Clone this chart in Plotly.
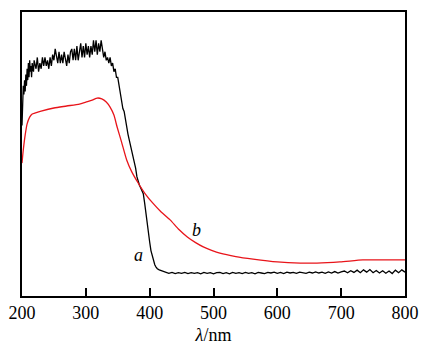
import plotly.graph_objects as go

# Curve a (black)
a_nm = [200,201,202,203,204,205,206,207,208,209,210,211,212,213,214,215,216,217,218,219,220,222,224,226,228,230,232,234,236,238,240,242,244,246,248,250,252,254,256,258,260,262,264,266,268,270,272,274,276,278,280,282,284,286,288,290,292,294,296,298,300,302,304,306,308,310,312,314,316,318,320,322,324,326,328,330,332,334,336,338,340,342,344,346,348,350,352,354,356,358,360,362,364,366,368,370,372,374,376,378,380,382,384,386,388,390,392,394,396,398,400,402,404,406,408,410,412,415,420,
        425,430,435,440,445,450,455,460,465,470,475,480,485,490,495,500,505,510,515,520,525,530,535,540,545,550,555,560,565,570,575,580,585,590,595,600,605,610,615,620,625,630,635,640,645,650,655,660,665,670,675,680,685,690,695,700,705,710,715,720,725,730,735,740,745,750,755,760,765,770,775,780,785,790,795,800]
a_val = [0.60,0.70,0.74,0.71,0.76,0.72,0.78,0.74,0.80,0.76,0.82,0.77,0.83,0.79,0.81,0.77,0.82,0.80,0.79,0.83,0.82,0.80,0.84,0.79,0.82,0.80,0.84,0.81,0.84,0.81,0.83,0.80,0.84,0.81,0.85,0.83,0.87,0.84,0.82,0.86,0.82,0.85,0.82,0.86,0.84,0.81,0.85,0.82,0.86,0.87,0.83,0.87,0.83,0.88,0.83,0.87,0.89,0.84,0.88,0.84,0.89,0.85,0.88,0.84,0.88,0.85,0.90,0.86,0.90,0.85,0.89,0.86,0.90,0.87,0.84,0.86,0.83,0.84,0.82,0.84,0.81,0.82,0.79,0.80,0.77,0.77,0.74,0.71,0.69,0.66,0.65,0.62,0.60,0.57,0.55,0.53,0.52,0.50,0.48,0.45,0.42,0.40,0.39,0.38,0.37,0.36,0.33,0.29,0.25,0.22,0.19,0.16,0.14,0.12,0.11,0.102,0.096,0.092,0.088,
         0.082,0.080,0.083,0.079,0.082,0.080,0.083,0.079,0.082,0.080,0.082,0.078,0.083,0.080,0.082,0.078,0.082,0.083,0.079,0.082,0.078,0.083,0.080,0.082,0.079,0.083,0.080,0.082,0.078,0.083,0.081,0.079,0.083,0.081,0.084,0.080,0.083,0.079,0.084,0.081,0.083,0.080,0.084,0.082,0.080,0.084,0.081,0.085,0.081,0.084,0.080,0.085,0.081,0.086,0.081,0.085,0.088,0.082,0.089,0.083,0.091,0.082,0.092,0.084,0.093,0.082,0.090,0.081,0.089,0.080,0.088,0.079,0.091,0.082,0.092,0.084]

# Curve b (red)
b_nm = [200,202,205,208,212,216,220,230,250,270,290,300,310,318,325,332,338,344,349,356,364,372,382,393,405,418,432,445,459,472,484,497,510,535,562,600,636,662,698,734,760,800]
b_val = [0.468,0.514,0.567,0.606,0.630,0.641,0.644,0.651,0.662,0.669,0.676,0.683,0.690,0.697,0.694,0.683,0.665,0.637,0.595,0.542,0.479,0.437,0.398,0.360,0.327,0.296,0.268,0.236,0.208,0.188,0.173,0.161,0.151,0.139,0.130,0.120,0.116,0.116,0.120,0.127,0.127,0.127]

x_ticks = [200, 300, 400, 500, 600, 700, 800]
labels = [("a", 382, 0.144), ("b", 474, 0.232)]

serif = "Liberation Serif, Times New Roman, serif"

fig = go.Figure()
fig.add_trace(go.Scatter(x=a_nm, y=a_val, mode="lines", line=dict(color="black", width=1.3), showlegend=False))
fig.add_trace(go.Scatter(x=b_nm, y=b_val, mode="lines", line=dict(color="#e8141a", width=1.3, shape="spline", smoothing=0.6), showlegend=False))

for t, x, y in labels:
    fig.add_annotation(x=x, y=y, text=f"<i>{t}</i>", showarrow=False,
                       font=dict(family=serif, size=18, color="black"))

# the page body has an 8px margin, so the figure is offset by 8px
fig.update_layout(
    width=418, height=341,
    margin=dict(l=14, r=21, t=4, b=53, autoexpand=False),
    paper_bgcolor="white", plot_bgcolor="white",
    font=dict(family=serif, size=17, color="black"),
)
fig.update_xaxes(range=[200, 800], tickvals=x_ticks, ticktext=[str(v) for v in x_ticks],
                 ticks="inside", ticklen=8, tickwidth=1.5, tickcolor="black",
                 showline=True, linecolor="black", linewidth=1.5, mirror=True,
                 showgrid=False, zeroline=False, automargin=False,
                 title=dict(text="<i>λ</i>/nm", font=dict(family=serif, size=18), standoff=6),
                 tickfont=dict(family=serif, size=18))
fig.update_yaxes(range=[0, 1], showticklabels=False, ticks="", automargin=False,
                 showline=True, linecolor="black", linewidth=1.5, mirror=True,
                 showgrid=False, zeroline=False)

fig.write_html("out.html")
